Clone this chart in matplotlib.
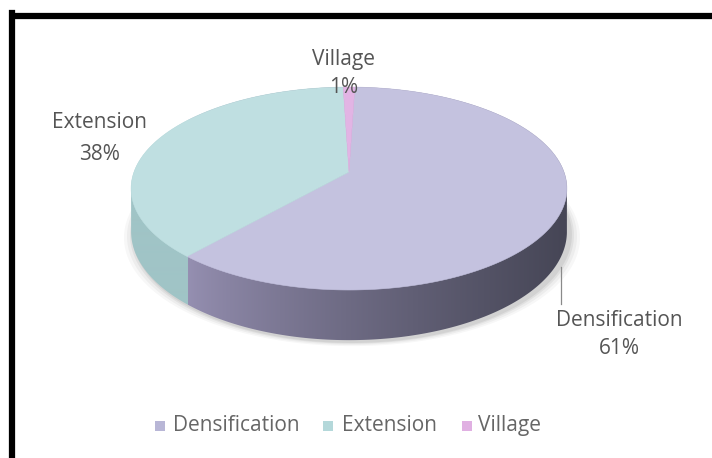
import numpy as np
import matplotlib
matplotlib.use("Agg")
import matplotlib.pyplot as plt
from matplotlib.patches import Polygon, Rectangle

# Share of new housing by type
categories = ["Densification", "Extension", "Village"]
values = [61, 38, 1]
top_colors = ["#c4c2df", "#bfdfe1", "#e2b4e4"]
legend_colors = ["#b8b6d6", "#b4d8da", "#e0b0e2"]
text_color = "#555555"

W, H = 712, 458
fig = plt.figure(figsize=(W / 100, H / 100), dpi=100)
ax = fig.add_axes([0, 0, 1, 1])
ax.set_xlim(0, W)
ax.set_ylim(H, 0)
ax.axis("off")

# perspective disc geometry (pixel units)
cx, cy = 349.0, 172.0
A, B, P = 215.0, 98.8, -0.1626
depth = 42.0
start_angle = 1.8


def rim(t_deg, drop=0.0):
    """Point on the rim for clockwise angle t (0 = far/top)."""
    t = np.radians(t_deg)
    s = -np.cos(t)
    c = np.sin(t)
    k = 1.0 + P * s
    return cx + A * c / k, cy + B * s / k + drop / k


def hull(pts):
    pts = sorted(map(tuple, pts))

    def cross(o, a, b):
        return (a[0] - o[0]) * (b[1] - o[1]) - (a[1] - o[1]) * (b[0] - o[0])

    lower, upper = [], []
    for p in pts:
        while len(lower) >= 2 and cross(lower[-2], lower[-1], p) <= 0:
            lower.pop()
        lower.append(p)
    for p in reversed(pts):
        while len(upper) >= 2 and cross(upper[-2], upper[-1], p) <= 0:
            upper.pop()
        upper.append(p)
    return np.array(lower[:-1] + upper[:-1])


total = float(sum(values))
start = start_angle
bounds = []
for v in values:
    end = start + 360.0 * v / total
    bounds.append((start, end))
    start = end

ts = np.linspace(0, 360, 721)
tx, ty = rim(ts)
bx, by = rim(ts, depth)

# soft shadow under the disc
for grow, alpha in [(10, 0.03), (7, 0.04), (4, 0.05), (2, 0.06)]:
    sx = cx + (bx - cx) * (1 + grow / 215.0) + 3
    sy = by + grow * 0.4 + 2
    ax.add_patch(Polygon(np.column_stack([sx, sy]), closed=True,
                         facecolor="#000000", edgecolor="none", alpha=alpha, zorder=1))

# side wall: hull of top and bottom rims, shaded by column
side_pts = hull(np.vstack([np.column_stack([tx, ty]), np.column_stack([bx, by])]))
side_patch = Polygon(side_pts, closed=True, facecolor="none", edgecolor="none")
ax.add_patch(side_patch)

dens_end_x, _ = rim(bounds[0][1])
img = np.ones((1, W, 3))
c_left = np.array([150, 144, 178]) / 255.0
c_right = np.array([70, 70, 86]) / 255.0
x0, x1 = dens_end_x, cx + A
for i in range(W):
    if i < dens_end_x:
        img[0, i] = np.array([160, 196, 198]) / 255.0
    else:
        f = np.clip((i - x0) / (x1 - x0), 0, 1) ** 0.8
        img[0, i] = c_left * (1 - f) + c_right * f
im = ax.imshow(img, extent=(0, W, H, 0), aspect="auto", zorder=2,
               interpolation="bilinear")
im.set_clip_path(side_patch)

# top faces of the slices
for (t0, t1), col in zip(bounds, top_colors):
    tt = np.linspace(t0, t1, max(3, int((t1 - t0) * 2)))
    px, py = rim(tt)
    poly = np.vstack([[cx, cy], np.column_stack([px, py])])
    ax.add_patch(Polygon(poly, closed=True, facecolor=col, edgecolor=col,
                         linewidth=0.4, zorder=3))

# data labels
font = "Open Sans"
fs = 15
label_pos = {
    "Village": ((343, 65), (344, 93)),
    "Extension": ((99.5, 128), (99, 160)),
    "Densification": ((619, 325.5), (619, 354)),
}
for name, v in zip(categories, values):
    (nx, ny), (px_, py_) = label_pos[name]
    ax.text(nx, ny, name, ha="center", va="baseline", fontsize=fs,
            color=text_color, family=font, zorder=5)
    ax.text(px_, py_, f"{v}%", ha="center", va="baseline", fontsize=fs,
            color=text_color, family=font, zorder=5)
ax.plot([561, 561], [267, 304], color="#8a8a8a", linewidth=0.9, zorder=4)

# legend
leg_marker_x = [160, 328, 467]
leg_text_x = [173, 342, 478]
for mx, lx, name, col in zip(leg_marker_x, leg_text_x, categories, legend_colors):
    ax.add_patch(Rectangle((mx - 5, 420.5), 10, 10, facecolor=col,
                           edgecolor="none", zorder=5))
    ax.text(lx, 425.5, name, ha="left", va="center", fontsize=fs,
            color="#666666", family=font, zorder=5)

# frame edges
ax.plot([12, 12], [13, H + 5], color="black", linewidth=4.5,
        solid_capstyle="projecting", zorder=6)
ax.plot([9, W + 5], [16, 16], color="black", linewidth=4.5,
        solid_capstyle="butt", zorder=6)

fig.savefig("out.png", dpi=100)
